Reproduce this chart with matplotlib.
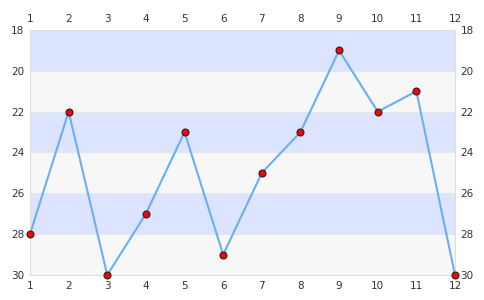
import matplotlib
matplotlib.use("Agg")
import matplotlib.pyplot as plt

months = [1, 2, 3, 4, 5, 6, 7, 8, 9, 10, 11, 12]
values = [28, 22, 30, 27, 23, 29, 25, 23, 19, 22, 21, 30]
yticks = [18, 20, 22, 24, 26, 28, 30]

fig = plt.figure(figsize=(4.85, 3.0), dpi=100)
ax = fig.add_axes([30/485, 25/300, 425/485, 245/300])

# alternating bands
for i in range(len(yticks) - 1):
    col = "#dde4ff" if i % 2 == 0 else "#f7f7f7"
    ax.axhspan(yticks[i], yticks[i+1], color=col, zorder=0, lw=0)
for y in yticks[1:-1]:
    ax.axhline(y, color="#e6e6e6", lw=0.8, zorder=1)

ax.plot(months, values, color="#6aaef5", lw=1.5, zorder=2, clip_on=False)
ax.plot(months, values, "o", ms=5, mfc="#ff0000", mec="#222222", mew=0.8,
        zorder=3, clip_on=False)

ax.set_xlim(1, 12)
ax.set_ylim(30, 18)
ax.set_xticks(months)
ax.set_yticks(yticks)
ax.tick_params(length=0, labelsize=7.5, labelcolor="#333333", pad=4,
               top=True, labeltop=True, right=True, labelright=True)
for s in ax.spines.values():
    s.set_color("#dddddd")
    s.set_linewidth(0.8)

fig.savefig("out.png", dpi=100)
